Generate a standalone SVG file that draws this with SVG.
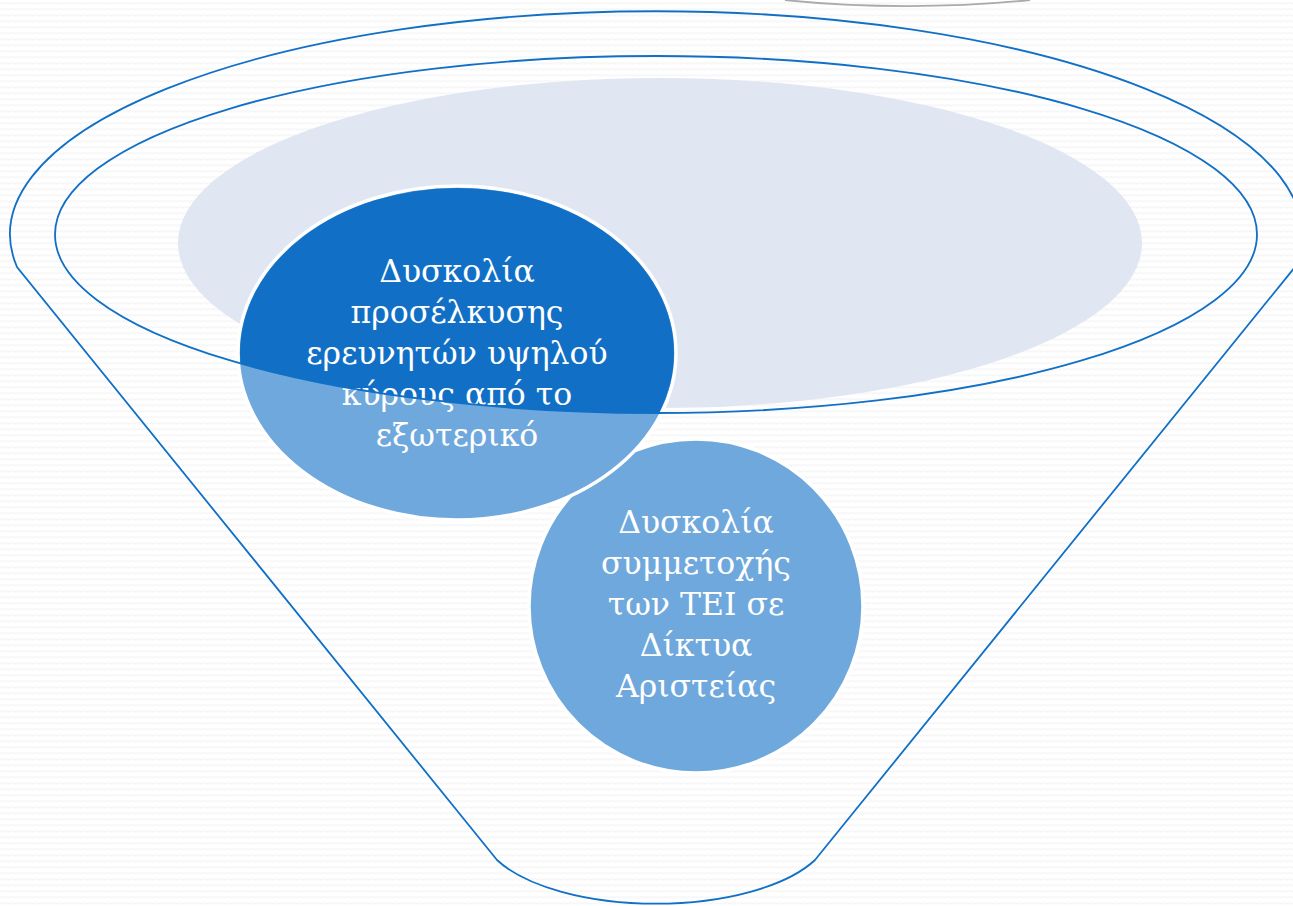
<svg xmlns="http://www.w3.org/2000/svg" width="1293" height="906" viewBox="0 0 1293 906">
<style>
.funnel{fill:none;stroke:#1170C6;stroke-width:1.8}
.lbl{font-family:"DejaVu Serif","Liberation Serif",serif;font-size:31.5px;fill:#ffffff;text-anchor:middle}
.node{stroke:#ffffff;stroke-width:3.5}
</style>
<defs>
<pattern id="bg" width="6" height="6" patternUnits="userSpaceOnUse">
<rect width="6" height="6" fill="#ffffff"/>
<path d="M0 4.5 L1.5 2 L3 4.5 L4.5 2 L6 4.5" fill="none" stroke="#f3f3f3" stroke-width="0.9"/>
</pattern>
<clipPath id="innerClip"><ellipse cx="656" cy="234.5" rx="601" ry="178.5"/></clipPath>
</defs>
<rect width="1293" height="906" fill="url(#bg)"/>
<path d="M785 0 A 300 70 0 0 0 1030 0" fill="none" stroke="#aaaaaa" stroke-width="1.8"/>
<g id="funnel">
<path class="funnel" d="M17 267 A 646 223 0 1 1 1295 267 L815 860 A 175 75 0 0 1 497 860 Z"/>
<ellipse id="lavender" cx="660" cy="243" rx="482" ry="165" fill="#DCE2F1" fill-opacity="0.85"/>
</g>
<g id="node2">
<circle class="node" cx="696" cy="606" r="167" fill="#6FA8DC"/>
<text class="lbl"><tspan x="696" y="533">Δυσκολία</tspan><tspan x="696" y="574">συμμετοχής</tspan><tspan x="696" y="615">των ΤΕΙ σε</tspan><tspan x="696" y="656">Δίκτυα</tspan><tspan x="696" y="697">Αριστείας</tspan></text>
</g>
<g id="node1">
<ellipse class="node" cx="457" cy="353" rx="219" ry="167" fill="#6FA8DC"/>
<ellipse cx="457" cy="353" rx="217" ry="165" fill="#1170C6" clip-path="url(#innerClip)"/>
<text class="lbl"><tspan x="457" y="282">Δυσκολία</tspan><tspan x="457" y="323">προσέλκυσης</tspan><tspan x="457" y="364">ερευνητών υψηλού</tspan><tspan x="457" y="405">κύρους από το</tspan><tspan x="457" y="446">εξωτερικό</tspan></text>
</g>
<g id="connectors">
<ellipse class="funnel" cx="656" cy="234.5" rx="601" ry="178.5"/>
</g>
</svg>
